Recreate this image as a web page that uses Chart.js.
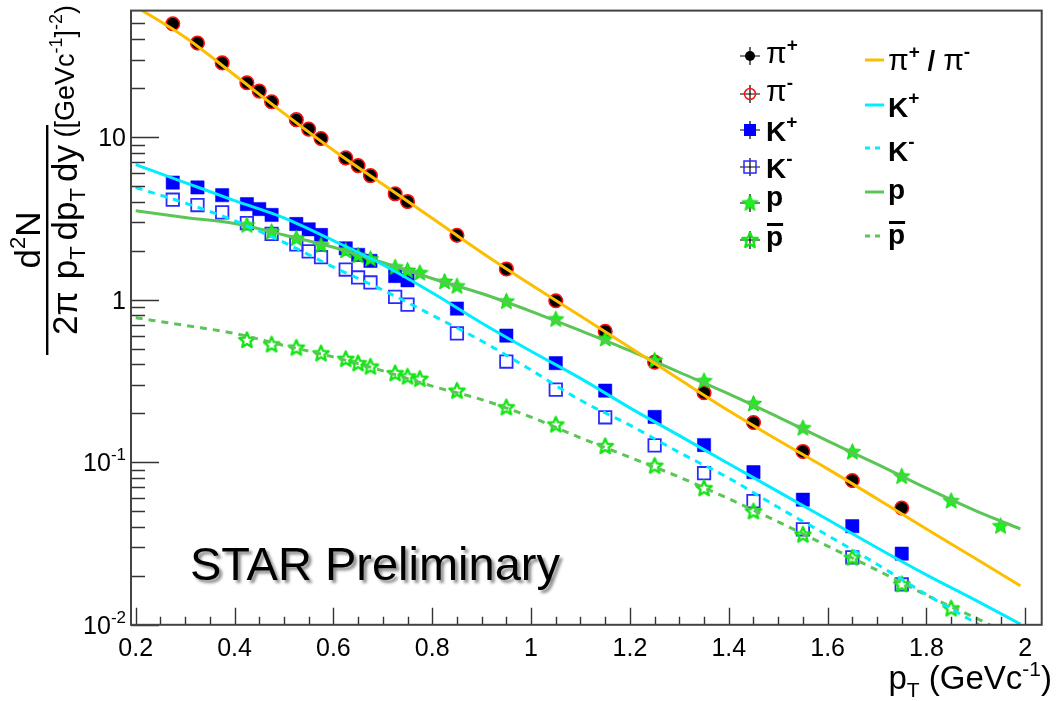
<!DOCTYPE html>
<html>
<head>
<meta charset="utf-8">
<script src="https://cdn.jsdelivr.net/npm/chart.js@4.4.1/dist/chart.umd.min.js"></script>
<style>
html,body{margin:0;padding:0;background:#fff;}
#wrap{width:1061px;height:701px;position:relative;}
</style>
</head>
<body>
<div id="wrap"><canvas id="c"></canvas></div>
<script>
// ---------------- data ----------------
const ptPi = [0.275,0.325,0.375,0.425,0.45,0.475,0.525,0.55,0.575,0.625,0.65,0.675,0.725,0.75,0.85,0.95,1.05,1.15,1.25,1.35,1.45,1.55,1.65,1.75];
const piPlus  = [49.5,37.7,28.5,21.5,19.1,16.4,12.7,11.2,9.76,7.40,6.65,5.77,4.46,4.00,2.48,1.537,0.979,0.635,0.411,0.2665,0.1747,0.1161,0.0768,0.0520];
const piMinus = [49.8,37.9,28.6,21.6,19.2,16.5,12.8,11.2,9.80,7.45,6.68,5.80,4.48,4.02,2.49,1.545,0.985,0.638,0.413,0.2675,0.1755,0.1165,0.0772,0.0523];

const ptKPlus = [0.275,0.325,0.375,0.425,0.45,0.475,0.525,0.55,0.575,0.625,0.65,0.675,0.725,0.75,0.85,0.95,1.05,1.15,1.25,1.35,1.45,1.55,1.65,1.75];
const kPlus   = [5.25,4.90,4.39,3.87,3.61,3.32,2.92,2.71,2.50,2.07,1.887,1.732,1.398,1.316,0.882,0.601,0.407,0.2757,0.190,0.1276,0.0869,0.0588,0.0404,0.0274];

const ptKMinus = [0.275,0.325,0.375,0.425,0.475,0.525,0.55,0.575,0.625,0.65,0.675,0.725,0.75,0.85,0.95,1.05,1.15,1.25,1.35,1.45,1.55,1.65,1.75];
const kMinus   = [4.12,3.82,3.44,2.96,2.54,2.19,1.98,1.827,1.532,1.369,1.276,1.040,0.933,0.620,0.4165,0.2796,0.189,0.127,0.0856,0.0577,0.0387,0.0260,0.0177];

const ptP   = [0.425,0.475,0.525,0.575,0.625,0.65,0.675,0.725,0.75,0.775,0.825,0.85,0.95,1.05,1.15,1.25,1.35,1.45,1.55,1.65,1.75,1.85,1.95];
const proton = [2.88,2.62,2.39,2.17,2.01,1.872,1.784,1.587,1.515,1.465,1.294,1.214,0.979,0.760,0.576,0.424,0.317,0.2296,0.1628,0.1161,0.0821,0.0580,0.0406];

const ptPbar = [0.425,0.475,0.525,0.575,0.625,0.65,0.675,0.725,0.75,0.775,0.85,0.95,1.05,1.15,1.25,1.35,1.45,1.55,1.65,1.75,1.85];
const pbar   = [0.565,0.531,0.507,0.468,0.4326,0.4067,0.388,0.353,0.337,0.3264,0.2757,0.218,0.1708,0.1258,0.0953,0.0693,0.0499,0.0359,0.0259,0.01776,0.01262];

// fit curves
const fitPt    = [0.2,0.3,0.4,0.5,0.6,0.7,0.8,0.9,1.0,1.1,1.2,1.3,1.4,1.5,1.6,1.7,1.8,1.9,1.99];
const fitPi    = [63.5,41.1,24.1,14.0,8.30,5.13,3.17,1.952,1.235,0.794,0.508,0.3237,0.2074,0.1365,0.0910,0.0596,0.0388,0.0255,0.0174];
const fitKPlus = [6.77,5.25,4.07,3.19,2.31,1.640,1.102,0.718,0.4815,0.328,0.2161,0.1458,0.0978,0.0660,0.0444,0.0298,0.0203,0.01414,0.0101];
const fitKMinus= [4.90,3.93,3.06,2.25,1.587,1.146,0.802,0.557,0.369,0.2404,0.169,0.1148,0.0798,0.0528,0.0355,0.0236,0.01535,0.01026,0.0072];
const fitP     = [3.52,3.20,2.94,2.50,2.10,1.693,1.350,1.091,0.848,0.645,0.486,0.3577,0.2634,0.1897,0.1352,0.0974,0.0692,0.0502,0.0389];
const fitPbar  = [0.774,0.694,0.620,0.523,0.444,0.365,0.2937,0.2428,0.1895,0.1414,0.1072,0.0810,0.0596,0.0430,0.0305,0.0217,0.01522,0.0110,0.00807];

// axes
const xTickValues = [0.2,0.4,0.6,0.8,1.0,1.2,1.4,1.6,1.8,2.0];
const xTickLabels = ['0.2','0.4','0.6','0.8','1','1.2','1.4','1.6','1.8','2'];
const yTickValues = [0.01,0.1,1,10];
const yTickBase = ['10','10','1','10'];
const yTickExp  = ['-2','-1','',''];
const X_MIN = 0.1905, X_MAX = 2.0332, Y_MIN = 0.01, Y_MAX = 60;

// ---------------- styling ----------------
const FONT = "'Liberation Sans', Arial, Helvetica, sans-serif";
const C_PI = '#fdbd00', C_K = '#00ecff', C_P = '#5cc557';

function starCanvas(fill, stroke, lw, R) {
  const s = Math.ceil(2 * R + lw + 3);
  const c = document.createElement('canvas');
  c.width = s; c.height = s;
  const g = c.getContext('2d');
  g.translate(s / 2, s / 2 + 0.5);
  g.beginPath();
  for (let i = 0; i < 10; i++) {
    const r = i % 2 === 0 ? R : R * 0.45;
    const a = -Math.PI / 2 + i * Math.PI / 5;
    const px = r * Math.cos(a), py = r * Math.sin(a);
    if (i === 0) g.moveTo(px, py); else g.lineTo(px, py);
  }
  g.closePath();
  if (fill) { g.fillStyle = fill; g.fill(); }
  if (stroke) { g.lineWidth = lw; g.strokeStyle = stroke; g.lineJoin = 'round'; g.stroke(); }
  return c;
}
const starFilled = starCanvas('#1ef01e', '#10d010', 1, 8.5);
const starOpen = starCanvas(null, '#14e414', 2.4, 8);

const pts = (xs, ys) => xs.map((x, i) => ({x: x, y: ys[i]}));

function curve(label, ys, color, dash) {
  return {label, data: pts(fitPt, ys), showLine: true, borderColor: color, borderWidth: 3,
          borderDash: dash || [], pointRadius: 0, cubicInterpolationMode: 'monotone', fill: false};
}

const datasets = [
  curve('pi fit', fitPi, C_PI),
  curve('K+ fit', fitKPlus, C_K),
  curve('K- fit', fitKMinus, C_K, [7, 6]),
  curve('p fit', fitP, C_P),
  curve('pbar fit', fitPbar, C_P, [7, 6]),
  {label: 'p', data: pts(ptP, proton), showLine: false, pointStyle: starFilled, pointRadius: 8},
  {label: 'pbar', data: pts(ptPbar, pbar), showLine: false, pointStyle: starOpen, pointRadius: 8},
  {label: 'pi-', data: pts(ptPi, piMinus), showLine: false, pointStyle: 'circle', pointRadius: 6.8,
   backgroundColor: 'rgba(0,0,0,0)', borderColor: '#ff1010', pointBorderWidth: 1.5},
  {label: 'pi+', data: pts(ptPi, piPlus), showLine: false, pointStyle: 'circle', pointRadius: 6.4,
   backgroundColor: '#000', borderColor: '#000', pointBorderWidth: 1},
  {label: 'K-', data: pts(ptKMinus, kMinus), showLine: false, pointStyle: 'rect', pointRadius: 8.8,
   backgroundColor: 'rgba(0,0,0,0)', borderColor: '#2a2aff', pointBorderWidth: 1.8},
  {label: 'K+', data: pts(ptKPlus, kPlus), showLine: false, pointStyle: 'rect', pointRadius: 9.4,
   backgroundColor: '#0000ff', borderColor: '#0000ff', pointBorderWidth: 0.5}
];

function drawRuns(ctx, runs, x, y, align) {
  let total = 0;
  const ws = runs.map(r => { ctx.font = r.font; const w = ctx.measureText(r.t).width + (r.gap || 0); total += w; return w; });
  let cx = align === 'right' ? x - total : (align === 'center' ? x - total / 2 : x);
  const start = cx;
  runs.forEach((r, i) => { ctx.font = r.font; ctx.fillText(r.t, cx, y + (r.dy || 0)); cx += ws[i]; });
  return {start, total};
}

const frameTicks = {
  id: 'frameTicks',
  beforeDraw(chart) {
    const ctx = chart.ctx;
    ctx.save(); ctx.fillStyle = '#fff'; ctx.fillRect(0, 0, chart.width, chart.height); ctx.restore();
  },
  afterDatasetsDraw(chart) {
    const {ctx, chartArea: a, scales: {x, y}} = chart;
    ctx.save();
    ctx.strokeStyle = '#333'; ctx.lineWidth = 1.4;
    ctx.beginPath();
    for (let k = 0; k <= 36; k++) {
      const v = 0.2 + k * 0.05;
      const px = Math.round(x.getPixelForValue(v)) + 0.5;
      const len = (k % 4 === 0) ? 17 : 8;
      ctx.moveTo(px, a.bottom); ctx.lineTo(px, a.bottom - len);
    }
    for (let e = -2; e <= 1; e++) {
      for (let m = 1; m <= 9; m++) {
        const v = m * Math.pow(10, e);
        if (v >= Y_MAX) break;
        const py = Math.round(y.getPixelForValue(v)) + 0.5;
        const len = m === 1 ? 28 : 14;
        ctx.moveTo(a.left, py); ctx.lineTo(a.left + len, py);
      }
    }
    ctx.stroke();
    ctx.strokeStyle = '#444'; ctx.lineWidth = 2;
    ctx.strokeRect(a.left, a.top, a.right - a.left, a.bottom - a.top);
    ctx.restore();
  },
  afterDraw(chart) {
    const ctx = chart.ctx;
    const ys = chart.scales.y;
    ctx.save();
    ctx.fillStyle = '#000';
    ctx.textBaseline = 'alphabetic';

    // ---- y tick labels (base + superscript exponent) ----
    yTickValues.forEach((v, i) => {
      const py = ys.getPixelForValue(v);
      const runs = [{t: yTickBase[i], font: `25px ${FONT}`}];
      if (yTickExp[i]) runs.push({t: yTickExp[i], font: `17px ${FONT}`, dy: -11});
      drawRuns(ctx, runs, 126, py + 9, 'right');
    });

    // ---- y axis title (rotated) ----
    ctx.save();
    ctx.rotate(-Math.PI / 2);
    const F = 35, S = 22, U = 27, US = 18;
    const fN = `${F}px ${FONT}`, fS = `${S}px ${FONT}`, fU = `${U}px ${FONT}`, fUS = `${US}px ${FONT}`;
    const unitRuns = [{t: '([GeVc', font: fU}, {t: '-1', font: fUS, dy: -12}, {t: ']', font: fU},
                      {t: '-2', font: fUS, dy: -12}, {t: ')', font: fU}];
    drawRuns(ctx, unitRuns, -5, 74, 'right');
    const fracStart = -355, fracEnd = -125;
    const mid = (fracStart + fracEnd) / 2;
    drawRuns(ctx, [{t: 'd', font: fN}, {t: '2', font: fS, dy: -15}, {t: 'N', font: fN}], mid, 40, 'center');
    drawRuns(ctx, [{t: '2\u03C0', font: fN, gap: 12}, {t: 'p', font: fN}, {t: 'T', font: fS, dy: 8, gap: 6},
                   {t: 'dp', font: fN}, {t: 'T', font: fS, dy: 8, gap: 6}, {t: 'dy', font: fN}], mid, 77, 'center');
    ctx.fillRect(fracStart, 46, fracEnd - fracStart, 2.4);
    ctx.restore();

    // ---- x axis title ----
    drawRuns(ctx, [{t: 'p', font: `33px ${FONT}`}, {t: 'T', font: `21px ${FONT}`, dy: 8},
                   {t: ' (GeVc', font: `33px ${FONT}`}, {t: '-1', font: `21px ${FONT}`, dy: -13},
                   {t: ')', font: `33px ${FONT}`}], 1052, 689, 'right');

    // ---- STAR Preliminary ----
    ctx.save();
    ctx.shadowColor = 'rgba(0,0,0,0.45)';
    ctx.shadowOffsetX = 3; ctx.shadowOffsetY = 3; ctx.shadowBlur = 3;
    ctx.font = `47px ${FONT}`;
    ctx.fillText('STAR Preliminary', 190, 580);
    ctx.restore();

    // ---- legend ----
    const LB = `bold 28px ${FONT}`, LP = `30px ${FONT}`, LS = `bold 19px ${FONT}`;
    const mx = 750, tx = 766;
    const cross = (cy) => {
      ctx.save(); ctx.strokeStyle = '#000'; ctx.lineWidth = 1.2;
      ctx.beginPath(); ctx.moveTo(mx - 10, cy); ctx.lineTo(mx + 10, cy); ctx.moveTo(mx, cy - 9); ctx.lineTo(mx, cy + 9); ctx.stroke();
      ctx.restore();
    };
    // pi+
    cross(56);
    ctx.beginPath(); ctx.arc(mx, 56, 5, 0, 2 * Math.PI); ctx.fillStyle = '#000'; ctx.fill();
    ctx.fillStyle = '#000';
    drawRuns(ctx, [{t: '\u03C0', font: LP}, {t: '+', font: LS, dy: -12}], tx, 63, 'left');
    // pi-
    cross(94);
    ctx.save(); ctx.beginPath(); ctx.arc(mx, 94, 5.5, 0, 2 * Math.PI); ctx.strokeStyle = '#ff1010'; ctx.lineWidth = 1.5; ctx.stroke(); ctx.restore();
    drawRuns(ctx, [{t: '\u03C0', font: LP}, {t: '-', font: LS, dy: -12}], tx, 101, 'left');
    // K+
    cross(130);
    ctx.fillStyle = '#0000ff'; ctx.fillRect(mx - 6, 124, 12, 12);
    ctx.fillStyle = '#000';
    drawRuns(ctx, [{t: 'K', font: LB}, {t: '+', font: LS, dy: -13}], tx, 141, 'left');
    // K-
    cross(167);
    ctx.save(); ctx.strokeStyle = '#2a2aff'; ctx.lineWidth = 1.5; ctx.strokeRect(mx - 6, 161, 12, 12); ctx.restore();
    drawRuns(ctx, [{t: 'K', font: LB}, {t: '-', font: LS, dy: -13}], tx, 178, 'left');
    // p
    cross(203);
    ctx.drawImage(starFilled, mx - starFilled.width / 2, 203 - starFilled.height / 2);
    drawRuns(ctx, [{t: 'p', font: LB}], tx, 206, 'left');
    // pbar
    cross(240);
    ctx.drawImage(starOpen, mx - starOpen.width / 2, 240 - starOpen.height / 2);
    let r = drawRuns(ctx, [{t: 'p', font: LB}], tx, 246, 'left');
    ctx.fillRect(r.start + 1, 223, r.total - 1, 3);

    // right column: lines
    const lx0 = 865, lx1 = 884, rx = 888;
    const seg = (cy, color, dash) => {
      ctx.save(); ctx.strokeStyle = color; ctx.lineWidth = 3; ctx.setLineDash(dash || []);
      ctx.beginPath(); ctx.moveTo(lx0, cy); ctx.lineTo(lx1, cy); ctx.stroke(); ctx.restore();
    };
    seg(60, C_PI);
    drawRuns(ctx, [{t: '\u03C0', font: LP}, {t: '+', font: LS, dy: -12}, {t: ' / ', font: LB},
                   {t: '\u03C0', font: LP}, {t: '-', font: LS, dy: -12}], rx, 70, 'left');
    seg(105, C_K);
    drawRuns(ctx, [{t: 'K', font: LB}, {t: '+', font: LS, dy: -13}], rx, 117, 'left');
    seg(148, C_K, [5, 5]);
    drawRuns(ctx, [{t: 'K', font: LB}, {t: '-', font: LS, dy: -13}], rx, 161, 'left');
    seg(192, C_P);
    drawRuns(ctx, [{t: 'p', font: LB}], rx, 199, 'left');
    seg(236, C_P, [5, 5]);
    r = drawRuns(ctx, [{t: 'p', font: LB}], rx, 244, 'left');
    ctx.fillRect(r.start + 1, 221, r.total - 1, 3);

    ctx.restore();
  }
};

new Chart(document.getElementById('c'), {
  type: 'scatter',
  data: {datasets},
  options: {
    responsive: true,
    maintainAspectRatio: false,
    animation: false,
    events: [],
    layout: {padding: {top: 7, right: 19.3, left: 0, bottom: 0}},
    plugins: {legend: {display: false}, tooltip: {enabled: false}},
    scales: {
      x: {
        type: 'linear', min: X_MIN, max: X_MAX,
        grid: {display: false, drawTicks: false}, border: {display: false},
        ticks: {autoSkip: false, maxRotation: 0, padding: 9, color: '#000',
                font: {family: FONT, size: 25}, callback: (v, i) => xTickLabels[i]},
        afterBuildTicks: s => { s.ticks = xTickValues.map(v => ({value: v})); },
        afterFit: s => { s.height = 76.2; }
      },
      y: {
        type: 'logarithmic', min: Y_MIN, max: Y_MAX,
        grid: {display: false, drawTicks: false}, border: {display: false},
        ticks: {display: false},
        afterBuildTicks: s => { s.ticks = yTickValues.map(v => ({value: v})); },
        afterFit: s => { s.width = 131; }
      }
    }
  },
  plugins: [frameTicks]
});
</script>
</body>
</html>
